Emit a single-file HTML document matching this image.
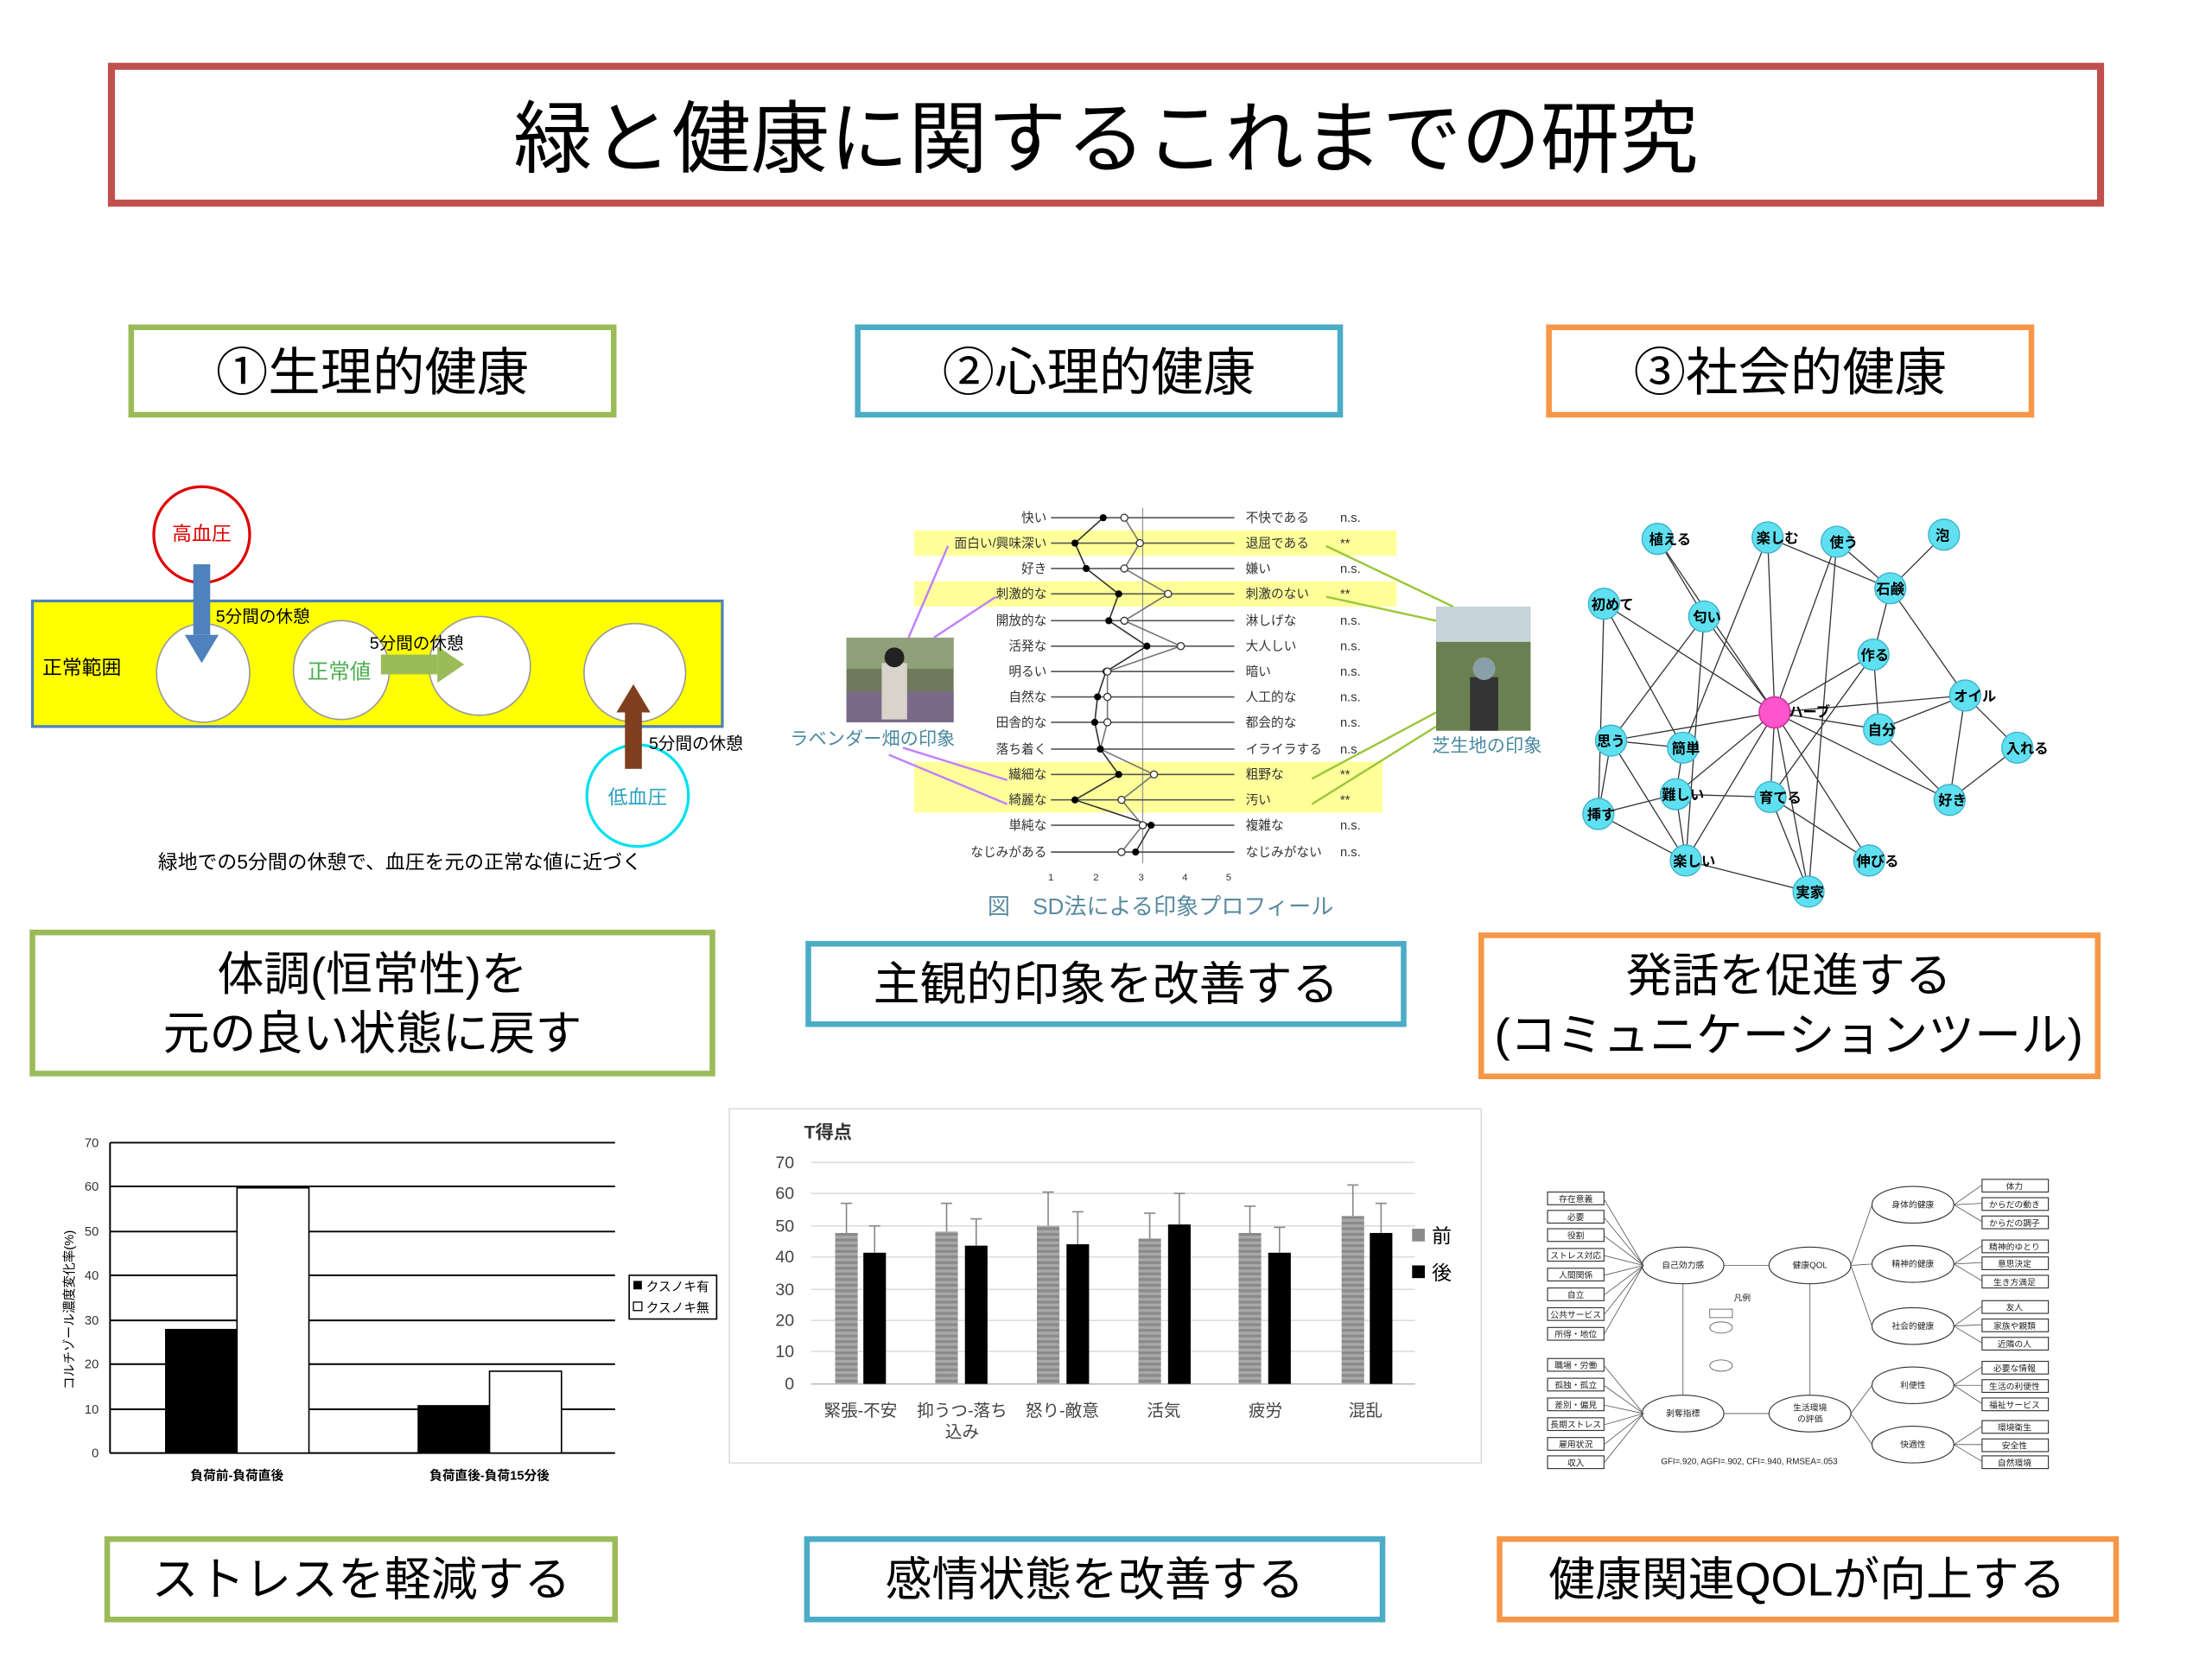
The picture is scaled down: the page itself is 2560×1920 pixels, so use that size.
<!DOCTYPE html>
<html><head><meta charset="utf-8"><style>
html,body{margin:0;padding:0;background:#fff;}
svg{display:block;font-family:"Liberation Sans","Noto Sans CJK JP",sans-serif;}
</style></head><body>
<svg width="2560" height="1920" viewBox="0 0 1568 1176" preserveAspectRatio="none" xmlns="http://www.w3.org/2000/svg">
<rect width="1568" height="1176" fill="#fff"/>
<!-- Title -->
<rect x="79" y="47" width="1410" height="97" fill="#fff" stroke="#c0504d" stroke-width="5"/>
<text x="784" y="118" font-size="56" text-anchor="middle" fill="#000">緑と健康に関するこれまでの研究</text>
<!-- headers -->
<g font-size="37" text-anchor="middle" fill="#000">
<rect x="93" y="232" width="342" height="62" fill="#fff" stroke="#9bbb59" stroke-width="4"/>
<text x="264" y="277">①生理的健康</text>
<rect x="608" y="232" width="342" height="62" fill="#fff" stroke="#4bacc6" stroke-width="4"/>
<text x="779" y="277">②心理的健康</text>
<rect x="1098" y="232" width="342" height="62" fill="#fff" stroke="#f79646" stroke-width="4"/>
<text x="1269" y="277">③社会的健康</text>
</g>
<!-- row2 boxes -->
<g font-size="33" text-anchor="middle" fill="#000">
<rect x="23" y="661" width="482" height="100" fill="#fff" stroke="#9bbb59" stroke-width="4"/>
<text x="264" y="702">体調(恒常性)を</text>
<text x="264" y="744">元の良い状態に戻す</text>
<rect x="573" y="669" width="422" height="57" fill="#fff" stroke="#4bacc6" stroke-width="4"/>
<text x="784" y="709">主観的印象を改善する</text>
<rect x="1050" y="663" width="437" height="100" fill="#fff" stroke="#f79646" stroke-width="4"/>
<text x="1268" y="703">発話を促進する</text>
<text x="1268" y="745">(コミュニケーションツール)</text>
<!-- bottom -->
<rect x="76" y="1091" width="360" height="57" fill="#fff" stroke="#9bbb59" stroke-width="4"/>
<text x="256" y="1131">ストレスを軽減する</text>
<rect x="572" y="1091" width="408" height="57" fill="#fff" stroke="#4bacc6" stroke-width="4"/>
<text x="776" y="1131">感情状態を改善する</text>
<rect x="1063" y="1091" width="437" height="57" fill="#fff" stroke="#f79646" stroke-width="4"/>
<text x="1281" y="1131">健康関連QOLが向上する</text>
</g>

<!-- Blood pressure diagram -->
<rect x="23" y="426" width="489" height="89" fill="#ffff00" stroke="#4f81bd" stroke-width="2"/>
<ellipse cx="144" cy="477" rx="33" ry="35" fill="#fff" stroke="#999" stroke-width="1"/>
<ellipse cx="242" cy="475" rx="34" ry="35" fill="#fff" stroke="#999" stroke-width="1"/>
<ellipse cx="340" cy="472" rx="36" ry="35" fill="#fff" stroke="#999" stroke-width="1"/>
<ellipse cx="450" cy="477" rx="36" ry="35" fill="#fff" stroke="#999" stroke-width="1"/>
<circle cx="143" cy="379" r="34" fill="#fff" stroke="#e00000" stroke-width="2"/>
<text x="143" y="383" font-size="14" text-anchor="middle" fill="#e00000">高血圧</text>
<circle cx="452" cy="564" r="36" fill="#fff" stroke="#00e0f0" stroke-width="2"/>
<text x="452" y="570" font-size="14" text-anchor="middle" fill="#2aa0c0">低血圧</text>
<rect x="137" y="400" width="12" height="50" fill="#4f81bd"/>
<polygon points="131,450 155,450 143,470" fill="#4f81bd"/>
<rect x="443" y="505" width="12" height="40" fill="#7f3f1f"/>
<polygon points="437,505 461,505 449,485" fill="#7f3f1f"/>
<rect x="270" y="464" width="40" height="14" fill="#9bbb59"/>
<polygon points="310,458 310,484 329,471" fill="#9bbb59"/>
<g font-size="12" fill="#000">
<text x="153" y="441">5分間の休憩</text>
<text x="262" y="460">5分間の休憩</text>
<text x="460" y="531">5分間の休憩</text>
<text x="30" y="478" font-size="14">正常範囲</text>
<text x="112" y="616" font-size="14">緑地での5分間の休憩で、血圧を元の正常な値に近づく</text>
</g>
<text x="218" y="481" font-size="15" fill="#4caf50">正常値</text>

<!-- SD chart -->
<rect x="648" y="376" width="342" height="18" fill="#ffff99"/>
<rect x="648" y="412" width="342" height="18" fill="#ffff99"/>
<rect x="648" y="540" width="332" height="18" fill="#ffff99"/>
<rect x="648" y="558" width="332" height="18" fill="#ffff99"/>
<line x1="810" y1="360" x2="810" y2="612" stroke="#999" stroke-width="0.8"/>
<g stroke="#555" stroke-width="1">
<line x1="745" y1="367" x2="875" y2="367"/><line x1="745" y1="385" x2="875" y2="385"/><line x1="745" y1="403" x2="875" y2="403"/><line x1="745" y1="421" x2="875" y2="421"/><line x1="745" y1="440" x2="875" y2="440"/><line x1="745" y1="458" x2="875" y2="458"/><line x1="745" y1="476" x2="875" y2="476"/><line x1="745" y1="494" x2="875" y2="494"/><line x1="745" y1="512" x2="875" y2="512"/><line x1="745" y1="531" x2="875" y2="531"/><line x1="745" y1="549" x2="875" y2="549"/><line x1="745" y1="567" x2="875" y2="567"/><line x1="745" y1="585" x2="875" y2="585"/><line x1="745" y1="604" x2="875" y2="604"/>
</g>
<polyline fill="none" stroke="#333" stroke-width="1" points="782,367 762,385 770,403 793,421 786,440 813,458 784,476 778,494 776,512 780,531 793,549 762,567 816,585 805,604"/>
<polyline fill="none" stroke="#777" stroke-width="1" points="797,367 808,385 797,403 828,421 797,440 837,458 785,476 785,494 785,512 780,531 818,549 795,567 810,585 795,604"/>
<g fill="#000">
<circle cx="782" cy="367" r="2.5"/><circle cx="762" cy="385" r="2.5"/><circle cx="770" cy="403" r="2.5"/><circle cx="793" cy="421" r="2.5"/><circle cx="786" cy="440" r="2.5"/><circle cx="813" cy="458" r="2.5"/><circle cx="784" cy="476" r="2.5"/><circle cx="778" cy="494" r="2.5"/><circle cx="776" cy="512" r="2.5"/><circle cx="780" cy="531" r="2.5"/><circle cx="793" cy="549" r="2.5"/><circle cx="762" cy="567" r="2.5"/><circle cx="816" cy="585" r="2.5"/><circle cx="805" cy="604" r="2.5"/>
</g>
<g fill="#fff" stroke="#333" stroke-width="0.8">
<circle cx="797" cy="367" r="2.5"/><circle cx="808" cy="385" r="2.5"/><circle cx="797" cy="403" r="2.5"/><circle cx="828" cy="421" r="2.5"/><circle cx="797" cy="440" r="2.5"/><circle cx="837" cy="458" r="2.5"/><circle cx="785" cy="476" r="2.5"/><circle cx="785" cy="494" r="2.5"/><circle cx="785" cy="512" r="2.5"/><circle cx="818" cy="549" r="2.5"/><circle cx="795" cy="567" r="2.5"/><circle cx="810" cy="585" r="2.5"/><circle cx="795" cy="604" r="2.5"/>
</g>
<g font-size="9" fill="#333" text-anchor="end">
<text x="742" y="370">快い</text><text x="742" y="388">面白い/興味深い</text><text x="742" y="406">好き</text><text x="742" y="424">刺激的な</text><text x="742" y="443">開放的な</text><text x="742" y="461">活発な</text><text x="742" y="479">明るい</text><text x="742" y="497">自然な</text><text x="742" y="515">田舎的な</text><text x="742" y="534">落ち着く</text><text x="742" y="552">繊細な</text><text x="742" y="570">綺麗な</text><text x="742" y="588">単純な</text><text x="742" y="607">なじみがある</text>
</g>
<g font-size="9" fill="#333">
<text x="883" y="370">不快である</text><text x="883" y="388">退屈である</text><text x="883" y="406">嫌い</text><text x="883" y="424">刺激のない</text><text x="883" y="443">淋しげな</text><text x="883" y="461">大人しい</text><text x="883" y="479">暗い</text><text x="883" y="497">人工的な</text><text x="883" y="515">都会的な</text><text x="883" y="534">イライラする</text><text x="883" y="552">粗野な</text><text x="883" y="570">汚い</text><text x="883" y="588">複雑な</text><text x="883" y="607">なじみがない</text>
<text x="950" y="370">n.s.</text><text x="950" y="388">**</text><text x="950" y="406">n.s.</text><text x="950" y="424">**</text><text x="950" y="443">n.s.</text><text x="950" y="461">n.s.</text><text x="950" y="479">n.s.</text><text x="950" y="497">n.s.</text><text x="950" y="515">n.s.</text><text x="950" y="534">n.s.</text><text x="950" y="552">**</text><text x="950" y="570">**</text><text x="950" y="588">n.s.</text><text x="950" y="607">n.s.</text>
<text x="743" y="624" font-size="7">1</text><text x="775" y="624" font-size="7">2</text><text x="807" y="624" font-size="7">3</text><text x="838" y="624" font-size="7">4</text><text x="869" y="624" font-size="7">5</text>
</g>
<rect x="600" y="452" width="76" height="60" fill="#6f7a5c"/>
<rect x="600" y="452" width="76" height="22" fill="#8fa07a"/>
<rect x="600" y="490" width="76" height="22" fill="#7a6a8a"/>
<rect x="625" y="470" width="18" height="40" fill="#d8d4cc"/>
<circle cx="634" cy="466" r="7" fill="#222"/>
<rect x="1018" y="430" width="67" height="88" fill="#6a8050"/>
<rect x="1018" y="430" width="67" height="25" fill="#c8d4dc"/>
<rect x="1042" y="480" width="20" height="38" fill="#333"/>
<circle cx="1052" cy="474" r="8" fill="#8aa0a8"/>
<g stroke="#c080ff" stroke-width="1.5" fill="none">
<line x1="644" y1="452" x2="672" y2="387"/><line x1="662" y1="452" x2="706" y2="423"/>
<line x1="640" y1="530" x2="714" y2="553"/><line x1="630" y1="535" x2="714" y2="570"/>
</g>
<g stroke="#9bc73a" stroke-width="1.5" fill="none">
<line x1="1030" y1="430" x2="940" y2="387"/><line x1="1018" y1="440" x2="940" y2="423"/>
<line x1="1018" y1="505" x2="930" y2="552"/><line x1="1018" y1="515" x2="930" y2="570"/>
</g>
<text x="560" y="528" font-size="13" fill="#4a8aa0">ラベンダー畑の印象</text>
<text x="1015" y="533" font-size="13" fill="#4a8aa0">芝生地の印象</text>
<text x="700" y="648" font-size="16" fill="#5a8aa0">図　SD法による印象プロフィール</text>

<!-- Network -->
<g stroke="#333" stroke-width="0.8">
<line x1="1258" y1="505" x2="1175" y2="382"/><line x1="1258" y1="505" x2="1253" y2="381"/><line x1="1258" y1="505" x2="1302" y2="384"/><line x1="1258" y1="505" x2="1137" y2="428"/><line x1="1258" y1="505" x2="1328" y2="464"/><line x1="1258" y1="505" x2="1332" y2="517"/><line x1="1258" y1="505" x2="1142" y2="525"/><line x1="1258" y1="505" x2="1188" y2="563"/><line x1="1258" y1="505" x2="1255" y2="565"/><line x1="1258" y1="505" x2="1382" y2="567"/><line x1="1258" y1="505" x2="1195" y2="610"/><line x1="1258" y1="505" x2="1325" y2="610"/><line x1="1258" y1="505" x2="1282" y2="632"/><line x1="1258" y1="505" x2="1208" y2="437"/><line x1="1258" y1="505" x2="1393" y2="493"/>
<line x1="1253" y1="381" x2="1340" y2="417"/><line x1="1302" y1="384" x2="1340" y2="417"/><line x1="1378" y1="379" x2="1340" y2="417"/><line x1="1340" y1="417" x2="1328" y2="464"/><line x1="1340" y1="417" x2="1393" y2="493"/><line x1="1175" y1="382" x2="1208" y2="437"/><line x1="1253" y1="381" x2="1193" y2="530"/><line x1="1208" y1="437" x2="1142" y2="525"/><line x1="1137" y1="428" x2="1193" y2="530"/><line x1="1137" y1="428" x2="1133" y2="577"/><line x1="1328" y1="464" x2="1255" y2="565"/><line x1="1302" y1="384" x2="1282" y2="632"/><line x1="1393" y1="493" x2="1430" y2="530"/><line x1="1393" y1="493" x2="1382" y2="567"/><line x1="1332" y1="517" x2="1393" y2="493"/><line x1="1332" y1="517" x2="1382" y2="567"/><line x1="1142" y1="525" x2="1193" y2="530"/><line x1="1142" y1="525" x2="1195" y2="610"/><line x1="1142" y1="525" x2="1133" y2="577"/><line x1="1193" y1="530" x2="1188" y2="563"/><line x1="1188" y1="563" x2="1255" y2="565"/><line x1="1188" y1="563" x2="1133" y2="577"/><line x1="1188" y1="563" x2="1195" y2="610"/><line x1="1255" y1="565" x2="1325" y2="610"/><line x1="1255" y1="565" x2="1282" y2="632"/><line x1="1195" y1="610" x2="1282" y2="632"/><line x1="1133" y1="577" x2="1195" y2="610"/><line x1="1430" y1="530" x2="1382" y2="567"/><line x1="1328" y1="464" x2="1332" y2="517"/><line x1="1208" y1="437" x2="1195" y2="610"/>
</g>
<g fill="#5fe0f0" stroke="#3ab0c8" stroke-width="0.8">
<circle cx="1175" cy="382" r="11"/><circle cx="1253" cy="381" r="11"/><circle cx="1302" cy="384" r="11"/><circle cx="1378" cy="379" r="11"/><circle cx="1137" cy="428" r="11"/><circle cx="1340" cy="417" r="11"/><circle cx="1208" cy="437" r="11"/><circle cx="1328" cy="464" r="11"/><circle cx="1393" cy="493" r="11"/><circle cx="1332" cy="517" r="11"/><circle cx="1430" cy="530" r="11"/><circle cx="1142" cy="525" r="11"/><circle cx="1193" cy="530" r="11"/><circle cx="1188" cy="563" r="11"/><circle cx="1255" cy="565" r="11"/><circle cx="1382" cy="567" r="11"/><circle cx="1133" cy="577" r="11"/><circle cx="1195" cy="610" r="11"/><circle cx="1325" cy="610" r="11"/><circle cx="1282" cy="632" r="11"/>
</g>
<circle cx="1258" cy="505" r="11" fill="#ff55cc" stroke="#cc3399"/>
<g font-size="10" fill="#000" font-weight="bold">
<text x="1169" y="386">植える</text><text x="1245" y="385">楽しむ</text><text x="1297" y="388">使う</text><text x="1372" y="383">泡</text><text x="1128" y="432">初めて</text><text x="1330" y="421">石鹸</text><text x="1200" y="441">匂い</text><text x="1319" y="468">作る</text><text x="1385" y="497">オイル</text><text x="1268" y="508">ハーブ</text><text x="1324" y="521">自分</text><text x="1422" y="534">入れる</text><text x="1132" y="529">思う</text><text x="1185" y="534">簡単</text><text x="1178" y="567">難しい</text><text x="1247" y="569">育てる</text><text x="1374" y="571">好き</text><text x="1125" y="581">挿す</text><text x="1186" y="614">楽しい</text><text x="1316" y="614">伸びる</text><text x="1273" y="636">実家</text>
</g>

<!-- Bar chart 1 -->
<g stroke="#000" stroke-width="1.2">
<line x1="78" y1="810" x2="436" y2="810"/><line x1="78" y1="841" x2="436" y2="841"/><line x1="78" y1="873" x2="436" y2="873"/><line x1="78" y1="904" x2="436" y2="904"/><line x1="78" y1="936" x2="436" y2="936"/><line x1="78" y1="967" x2="436" y2="967"/><line x1="78" y1="999" x2="436" y2="999"/><line x1="78" y1="1030" x2="436" y2="1030"/><line x1="78" y1="810" x2="78" y2="1030"/>
</g>
<rect x="117" y="942" width="51" height="88" fill="#000"/>
<rect x="168" y="842" width="51" height="188" fill="#fff" stroke="#000"/>
<rect x="296" y="996" width="51" height="34" fill="#000"/>
<rect x="347" y="972" width="51" height="58" fill="#fff" stroke="#000"/>
<g font-size="9" fill="#333" text-anchor="end">
<text x="70" y="813">70</text><text x="70" y="844">60</text><text x="70" y="876">50</text><text x="70" y="907">40</text><text x="70" y="939">30</text><text x="70" y="970">20</text><text x="70" y="1002">10</text><text x="70" y="1033">0</text>
</g>
<text transform="translate(52,985) rotate(-90)" font-size="9" fill="#000">コルチゾール濃度変化率(%)</text>
<rect x="446" y="904" width="62" height="31" fill="#fff" stroke="#000" stroke-width="1"/>
<rect x="449" y="908" width="6" height="6" fill="#000"/><text x="458" y="915" font-size="9">クスノキ有</text>
<rect x="449" y="923" width="6" height="6" fill="#fff" stroke="#000" stroke-width="0.8"/><text x="458" y="930" font-size="9">クスノキ無</text>
<text x="168" y="1049" font-size="9" font-weight="bold" text-anchor="middle">負荷前-負荷直後</text>
<text x="347" y="1049" font-size="9" font-weight="bold" text-anchor="middle">負荷直後-負荷15分後</text>

<!-- Bar chart 2 -->
<rect x="517" y="786" width="533" height="251" fill="#fff" stroke="#ddd" stroke-width="1"/>
<text x="570" y="807" font-size="13" font-weight="bold" fill="#333">T得点</text>
<g stroke="#ddd" stroke-width="1">
<line x1="575" y1="824" x2="1003" y2="824"/><line x1="575" y1="846" x2="1003" y2="846"/><line x1="575" y1="869" x2="1003" y2="869"/><line x1="575" y1="891" x2="1003" y2="891"/><line x1="575" y1="914" x2="1003" y2="914"/><line x1="575" y1="936" x2="1003" y2="936"/><line x1="575" y1="958" x2="1003" y2="958"/>
</g>
<line x1="575" y1="981" x2="1003" y2="981" stroke="#bbb"/>
<g font-size="12" fill="#444" text-anchor="end">
<text x="563" y="828">70</text><text x="563" y="850">60</text><text x="563" y="873">50</text><text x="563" y="895">40</text><text x="563" y="918">30</text><text x="563" y="940">20</text><text x="563" y="962">10</text><text x="563" y="985">0</text>
</g>
<defs><pattern id="st" width="4" height="4" patternUnits="userSpaceOnUse"><rect width="4" height="4" fill="#8a8a8a"/><rect width="4" height="2" fill="#a8a8a8"/></pattern></defs>
<g fill="url(#st)">
<rect x="592" y="874" width="16" height="107"/><rect x="663" y="873" width="16" height="108"/><rect x="735" y="869" width="16" height="112"/><rect x="807" y="878" width="16" height="103"/><rect x="878" y="874" width="16" height="107"/><rect x="951" y="862" width="16" height="119"/>
</g>
<g fill="#000">
<rect x="612" y="888" width="16" height="93"/><rect x="684" y="883" width="16" height="98"/><rect x="756" y="882" width="16" height="99"/><rect x="828" y="868" width="16" height="113"/><rect x="899" y="888" width="16" height="93"/><rect x="971" y="874" width="16" height="107"/>
</g>
<g stroke="#888" stroke-width="1">
<line x1="600" y1="874" x2="600" y2="853"/><line x1="596" y1="853" x2="604" y2="853"/>
<line x1="620" y1="888" x2="620" y2="869"/><line x1="616" y1="869" x2="624" y2="869"/>
<line x1="671" y1="873" x2="671" y2="853"/><line x1="667" y1="853" x2="675" y2="853"/>
<line x1="692" y1="883" x2="692" y2="864"/><line x1="688" y1="864" x2="696" y2="864"/>
<line x1="743" y1="869" x2="743" y2="845"/><line x1="739" y1="845" x2="747" y2="845"/>
<line x1="764" y1="882" x2="764" y2="859"/><line x1="760" y1="859" x2="768" y2="859"/>
<line x1="815" y1="878" x2="815" y2="860"/><line x1="811" y1="860" x2="819" y2="860"/>
<line x1="836" y1="868" x2="836" y2="846"/><line x1="832" y1="846" x2="840" y2="846"/>
<line x1="886" y1="874" x2="886" y2="855"/><line x1="882" y1="855" x2="890" y2="855"/>
<line x1="907" y1="888" x2="907" y2="870"/><line x1="903" y1="870" x2="911" y2="870"/>
<line x1="959" y1="862" x2="959" y2="840"/><line x1="955" y1="840" x2="963" y2="840"/>
<line x1="979" y1="874" x2="979" y2="853"/><line x1="975" y1="853" x2="983" y2="853"/>
</g>
<rect x="1001" y="871" width="9" height="9" fill="#8a8a8a"/><text x="1015" y="881" font-size="14">前</text>
<rect x="1001" y="897" width="9" height="9" fill="#000"/><text x="1015" y="907" font-size="14">後</text>
<g font-size="12" fill="#444" text-anchor="middle">
<text x="610" y="1004">緊張-不安</text><text x="682" y="1004">抑うつ-落ち</text><text x="682" y="1019">込み</text><text x="753" y="1004">怒り-敵意</text><text x="825" y="1004">活気</text><text x="897" y="1004">疲労</text><text x="968" y="1004">混乱</text>
</g>

<!-- SEM diagram -->
<g fill="#fff" stroke="#333" stroke-width="0.7">
<rect x="1097" y="845" width="40" height="9"/><rect x="1097" y="858" width="40" height="9"/><rect x="1097" y="871" width="40" height="9"/><rect x="1097" y="885" width="40" height="9"/><rect x="1097" y="899" width="40" height="9"/><rect x="1097" y="913" width="40" height="9"/><rect x="1097" y="927" width="40" height="9"/><rect x="1097" y="941" width="40" height="9"/>
<rect x="1097" y="963" width="40" height="9"/><rect x="1097" y="977" width="40" height="9"/><rect x="1097" y="991" width="40" height="9"/><rect x="1097" y="1005" width="40" height="9"/><rect x="1097" y="1019" width="40" height="9"/><rect x="1097" y="1032" width="40" height="9"/>
<rect x="1405" y="836" width="47" height="9"/><rect x="1405" y="849" width="47" height="9"/><rect x="1405" y="862" width="47" height="9"/><rect x="1405" y="879" width="47" height="9"/><rect x="1405" y="891" width="47" height="9"/><rect x="1405" y="904" width="47" height="9"/><rect x="1405" y="922" width="47" height="9"/><rect x="1405" y="935" width="47" height="9"/><rect x="1405" y="948" width="47" height="9"/><rect x="1405" y="965" width="47" height="9"/><rect x="1405" y="978" width="47" height="9"/><rect x="1405" y="991" width="47" height="9"/><rect x="1405" y="1007" width="47" height="9"/><rect x="1405" y="1020" width="47" height="9"/><rect x="1405" y="1032" width="47" height="9"/>
<ellipse cx="1193" cy="897" rx="29" ry="13"/><ellipse cx="1283" cy="897" rx="29" ry="13"/><ellipse cx="1356" cy="854" rx="29" ry="13"/><ellipse cx="1356" cy="896" rx="29" ry="13"/><ellipse cx="1356" cy="940" rx="29" ry="13"/><ellipse cx="1193" cy="1002" rx="29" ry="13"/><ellipse cx="1283" cy="1002" rx="29" ry="13"/><ellipse cx="1356" cy="982" rx="29" ry="13"/><ellipse cx="1356" cy="1024" rx="29" ry="13"/>
</g>
<g stroke="#555" stroke-width="0.5">
<line x1="1137" y1="850" x2="1165" y2="897"/><line x1="1137" y1="863" x2="1165" y2="897"/><line x1="1137" y1="876" x2="1165" y2="897"/><line x1="1137" y1="890" x2="1165" y2="897"/><line x1="1137" y1="904" x2="1165" y2="897"/><line x1="1137" y1="918" x2="1165" y2="897"/><line x1="1137" y1="932" x2="1165" y2="897"/><line x1="1137" y1="946" x2="1165" y2="897"/>
<line x1="1137" y1="968" x2="1165" y2="1002"/><line x1="1137" y1="982" x2="1165" y2="1002"/><line x1="1137" y1="996" x2="1165" y2="1002"/><line x1="1137" y1="1010" x2="1165" y2="1002"/><line x1="1137" y1="1024" x2="1165" y2="1002"/><line x1="1137" y1="1037" x2="1165" y2="1002"/>
<line x1="1222" y1="897" x2="1254" y2="897"/><line x1="1222" y1="1002" x2="1254" y2="1002"/><line x1="1193" y1="910" x2="1193" y2="989"/><line x1="1283" y1="910" x2="1283" y2="989"/>
<line x1="1312" y1="897" x2="1327" y2="854"/><line x1="1312" y1="897" x2="1327" y2="896"/><line x1="1312" y1="897" x2="1327" y2="940"/><line x1="1312" y1="1002" x2="1327" y2="982"/><line x1="1312" y1="1002" x2="1327" y2="1024"/>
<line x1="1385" y1="854" x2="1405" y2="840"/><line x1="1385" y1="854" x2="1405" y2="853"/><line x1="1385" y1="854" x2="1405" y2="866"/><line x1="1385" y1="896" x2="1405" y2="883"/><line x1="1385" y1="896" x2="1405" y2="895"/><line x1="1385" y1="896" x2="1405" y2="908"/><line x1="1385" y1="940" x2="1405" y2="926"/><line x1="1385" y1="940" x2="1405" y2="939"/><line x1="1385" y1="940" x2="1405" y2="952"/><line x1="1385" y1="982" x2="1405" y2="969"/><line x1="1385" y1="982" x2="1405" y2="982"/><line x1="1385" y1="982" x2="1405" y2="995"/><line x1="1385" y1="1024" x2="1405" y2="1011"/><line x1="1385" y1="1024" x2="1405" y2="1024"/><line x1="1385" y1="1024" x2="1405" y2="1036"/>
</g>
<g font-size="6" fill="#222" text-anchor="middle">
<text x="1117" y="852">存在意義</text><text x="1117" y="865">必要</text><text x="1117" y="878">役割</text><text x="1117" y="892">ストレス対応</text><text x="1117" y="906">人間関係</text><text x="1117" y="920">自立</text><text x="1117" y="934">公共サービス</text><text x="1117" y="948">所得・地位</text>
<text x="1117" y="970">職場・労働</text><text x="1117" y="984">孤独・孤立</text><text x="1117" y="998">差別・偏見</text><text x="1117" y="1012">長期ストレス</text><text x="1117" y="1026">雇用状況</text><text x="1117" y="1039">収入</text>
<text x="1193" y="899">自己効力感</text><text x="1283" y="899">健康QOL</text><text x="1356" y="856">身体的健康</text><text x="1356" y="898">精神的健康</text><text x="1356" y="942">社会的健康</text><text x="1193" y="1004">剥奪指標</text><text x="1283" y="1000">生活環境</text><text x="1283" y="1008">の評価</text><text x="1356" y="984">利便性</text><text x="1356" y="1026">快適性</text>
<text x="1428" y="843">体力</text><text x="1428" y="856">からだの動き</text><text x="1428" y="869">からだの調子</text><text x="1428" y="886">精神的ゆとり</text><text x="1428" y="898">意思決定</text><text x="1428" y="911">生き方満足</text><text x="1428" y="929">友人</text><text x="1428" y="942">家族や親類</text><text x="1428" y="955">近隣の人</text><text x="1428" y="972">必要な情報</text><text x="1428" y="985">生活の利便性</text><text x="1428" y="998">福祉サービス</text><text x="1428" y="1014">環境衛生</text><text x="1428" y="1027">安全性</text><text x="1428" y="1039">自然環境</text>
<text x="1240" y="1038">GFI=.920, AGFI=.902, CFI=.940, RMSEA=.053</text>
<text x="1235" y="922">凡例</text>
</g>
<g fill="none" stroke="#555" stroke-width="0.5">
<rect x="1212" y="928" width="16" height="6"/><ellipse cx="1220" cy="941" rx="8" ry="4"/><ellipse cx="1220" cy="968" rx="8" ry="4"/>
</g>
</svg>
</body></html>
